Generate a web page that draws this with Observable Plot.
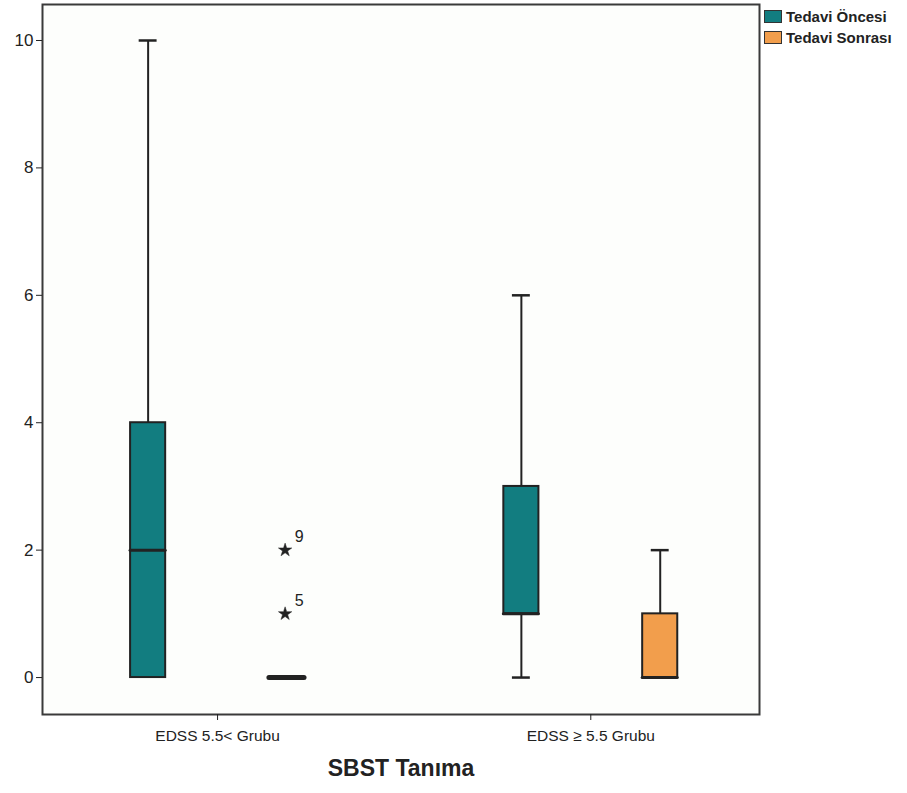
<!DOCTYPE html>
<html><head><meta charset="utf-8">
<script src="https://cdn.jsdelivr.net/npm/d3@7"></script>
<script src="https://cdn.jsdelivr.net/npm/@observablehq/plot@0.6"></script>
<style>
body{margin:0;background:#fff;font-family:"Liberation Sans",Arial,sans-serif}
#wrap{position:relative;width:907px;height:793px}
#legend{position:absolute;left:764px;top:6px;font-weight:bold;font-size:15px;color:#222;line-height:21px}
#legend .item{display:flex;align-items:center;white-space:nowrap}
#legend .sw{width:18px;height:13px;border:1px solid #333;box-sizing:border-box;margin-right:4px}
</style></head><body><div id="wrap"><div id="legend"></div></div>
<script>
const groups = ["EDSS 5.5< Grubu", "EDSS \u2265 5.5 Grubu"];
const treatments = ["Tedavi Öncesi", "Tedavi Sonrası"];
const colors = ["#127d80", "#f29e4c"];
// boxes in order: G1-Öncesi, G1-Sonrası, G2-Öncesi, G2-Sonrası
const boxGroup = [0, 0, 1, 1];
const boxTreatment = [0, 1, 0, 1];
const mins = [0, 0, 0, 0];
const q1s = [0, 0, 1, 0];
const medians = [2, 0, 1, 0];
const q3s = [4, 0, 3, 1];
const maxs = [10, 0, 6, 2];
const outlierBox = [1, 1];
const outlierValues = [1, 2];
const outlierLabels = ["5", "9"];
const yTicks = [0, 2, 4, 6, 8, 10];

// layout constants (in x-scale units, one unit = distance between groups)
const offset = 0.186, boxHalf = 0.047, capHalf = 0.024;

const boxes = boxGroup.map((g, i) => {
  const pos = g + (boxTreatment[i] === 0 ? -offset : offset);
  return {pos, x1: pos - boxHalf, x2: pos + boxHalf, c1: pos - capHalf, c2: pos + capHalf,
    treatment: treatments[boxTreatment[i]], min: mins[i], q1: q1s[i], median: medians[i], q3: q3s[i], max: maxs[i]};
});
const outliers = outlierBox.map((b, i) => ({pos: boxes[b].pos - 0.005, value: outlierValues[i], label: outlierLabels[i]}));

const ink = "#222";
const plot = Plot.plot({
  width: 907, height: 793,
  marginLeft: 42, marginRight: 148, marginTop: 4, marginBottom: 79,
  style: {fontFamily: "Liberation Sans, Arial, sans-serif", background: "transparent", color: ink},
  x: {type: "linear", domain: [-0.469, 1.452], axis: null},
  y: {domain: [-0.58, 10.565], axis: null},
  color: {domain: treatments, range: colors},
  marks: [
    Plot.frame({fill: "#fdfefc", stroke: "#3a3a3a", strokeWidth: 2}),
    Plot.axisY({ticks: yTicks, tickSize: 6, tickPadding: 3, fontSize: 17, label: null, stroke: ink}),
    Plot.axisX({ticks: [0, 1], tickFormat: i => groups[i], tickSize: 6, tickPadding: 9, fontSize: 15.5, label: null, stroke: ink}),
    Plot.text(["SBST Tanıma"], {frameAnchor: "bottom", dy: 61, fontSize: 23, fontWeight: "bold", fill: ink}),
    Plot.ruleX(boxes.filter(d => d.min < d.q1), {x: "pos", y1: "min", y2: "q1", stroke: ink, strokeWidth: 2}),
    Plot.ruleX(boxes.filter(d => d.max > d.q3), {x: "pos", y1: "q3", y2: "max", stroke: ink, strokeWidth: 2}),
    Plot.ruleY(boxes.filter(d => d.min < d.q1), {x1: "c1", x2: "c2", y: "min", stroke: ink, strokeWidth: 2.5}),
    Plot.ruleY(boxes.filter(d => d.max > d.q3), {x1: "c1", x2: "c2", y: "max", stroke: ink, strokeWidth: 2.5}),
    Plot.rect(boxes, {x1: "x1", x2: "x2", y1: "q1", y2: "q3", fill: "treatment", stroke: ink, strokeWidth: 2}),
    Plot.ruleY(boxes, {x1: "x1", x2: "x2", y: "median", stroke: ink, strokeWidth: d => d.q1 === d.q3 ? 5 : 3, strokeLinecap: "round"}),
    Plot.dot(outliers, {x: "pos", y: "value", symbol: "star", r: 4.2, fill: ink, stroke: ink, strokeWidth: 0.5}),
    Plot.text(outliers, {x: "pos", y: "value", text: "label", dx: 14, dy: -13, fontSize: 16, fill: ink})
  ]
});
document.getElementById("wrap").prepend(plot);
plot.style.position = "absolute"; plot.style.left = "0"; plot.style.top = "0";
const legend = document.getElementById("legend");
treatments.forEach((t, i) => {
  const item = document.createElement("div"); item.className = "item";
  const sw = document.createElement("span"); sw.className = "sw"; sw.style.background = colors[i];
  item.append(sw, document.createTextNode(t)); legend.append(item);
});
</script></body></html>
